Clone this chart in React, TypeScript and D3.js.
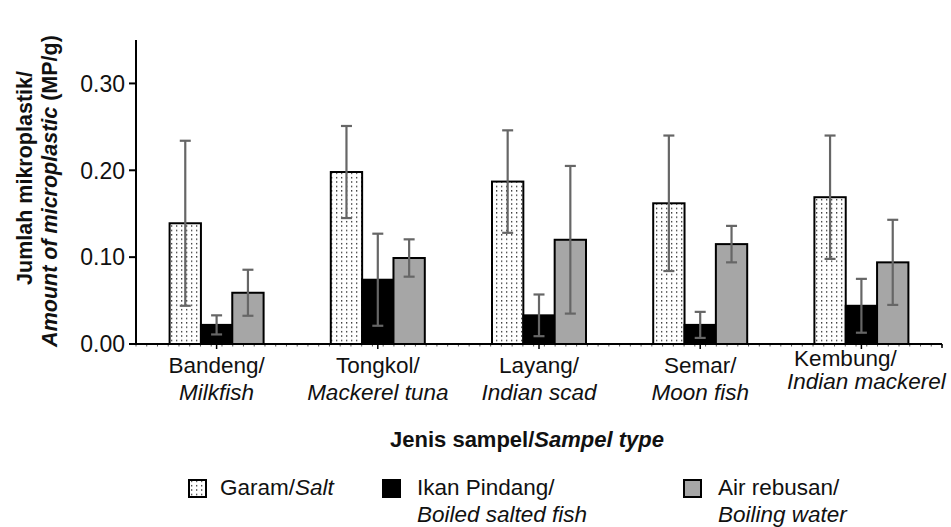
import React from "react";
import * as d3 from "d3";

const categoriesId = ["Bandeng/", "Tongkol/", "Layang/", "Semar/", "Kembung/"];
const categoriesEn = ["Milkfish", "Mackerel tuna", "Indian scad", "Moon fish", "Indian mackerel"];
const seriesKeys = ["salt", "fish", "water"];
const saltValues = [0.139, 0.198, 0.187, 0.162, 0.169];
const saltSd = [0.095, 0.053, 0.059, 0.078, 0.071];
const fishValues = [0.022, 0.074, 0.033, 0.022, 0.044];
const fishSd = [0.011, 0.053, 0.024, 0.015, 0.031];
const waterValues = [0.059, 0.099, 0.12, 0.115, 0.094];
const waterSd = [0.0265, 0.0215, 0.085, 0.021, 0.049];
const yTicks = [0, 0.1, 0.2, 0.3];

const W = 951, H = 527;
const FONT = "'Liberation Sans', Arial, Helvetica, sans-serif";

export default function App() {
  const left = 136, right = 942, top = 40, bottom = 344;
  const x = d3.scaleBand<number>().domain(d3.range(5)).range([left, right]).padding(0);
  const inner = d3.scaleBand<string>().domain(seriesKeys).range([0, 94]);
  const y = d3.scaleLinear().domain([0, 0.35]).range([bottom, top]);
  const values = [saltValues, fishValues, waterValues];
  const sds = [saltSd, fishSd, waterSd];
  const fills = ["url(#dots)", "#000000", "#a6a6a6"];
  const bw = x.bandwidth();
  const minor = d3.range(0, 76).map((i) => left + (i * (right - left)) / 75);

  return (
    <svg width={W} height={H} style={{ position: "absolute", left: 0, top: 0, background: "#fff" }} fontFamily={FONT}>
      <defs>
        <pattern id="dots" width="5" height="4.4" patternUnits="userSpaceOnUse">
          <rect width="5" height="4.4" fill="#fff" />
          <rect x="1" y="1" width="1.3" height="1.3" fill="#222" />
        </pattern>
      </defs>

      {/* minor ticks on x axis */}
      {minor.map((m, i) => (
        <line key={"m" + i} x1={m} x2={m} y1={bottom} y2={bottom + 2.5} stroke="#555" strokeWidth={1} />
      ))}

      {/* bars */}
      {d3.range(5).map((c) => {
        const gx = (x(c) as number) + bw / 2 - 47;
        return seriesKeys.map((k, s) => {
          const v = values[s][c];
          const bx = gx + (inner(k) as number);
          return (
            <rect key={k + c} x={bx} y={y(v)} width={inner.bandwidth()} height={bottom - y(v)}
              fill={fills[s]} stroke="#000" strokeWidth={2} />
          );
        });
      })}

      {/* error bars */}
      {d3.range(5).map((c) => {
        const gx = (x(c) as number) + bw / 2 - 47;
        return seriesKeys.map((k, s) => {
          const v = values[s][c], sd = sds[s][c];
          const cx = gx + (inner(k) as number) + inner.bandwidth() / 2;
          const y1 = y(v + sd), y2 = y(Math.max(0, v - sd));
          return (
            <g key={"e" + k + c} stroke="#666" strokeWidth={2.2}>
              <line x1={cx} x2={cx} y1={y1} y2={y2} />
              <line x1={cx - 5.5} x2={cx + 5.5} y1={y1} y2={y1} />
              <line x1={cx - 5.5} x2={cx + 5.5} y1={y2} y2={y2} />
            </g>
          );
        });
      })}

      {/* axes */}
      <line x1={left} x2={left} y1={top} y2={bottom + 1} stroke="#000" strokeWidth={2} />
      <line x1={left - 1} x2={right} y1={bottom} y2={bottom} stroke="#000" strokeWidth={2} />
      <line x1={right} x2={right} y1={bottom} y2={bottom + 4} stroke="#000" strokeWidth={1.5} />
      {yTicks.map((t) => (
        <g key={"yt" + t}>
          <line x1={left - 7} x2={left} y1={y(t)} y2={y(t)} stroke="#000" strokeWidth={2} />
          <text x={left - 11} y={y(t)} dy="0.36em" textAnchor="end" fontSize={23} fill="#111">
            {d3.format(".2f")(t)}
          </text>
        </g>
      ))}
      {d3.range(5).map((c) => {
        const cx = (x(c) as number) + bw / 2;
        const last = c === 4;
        return (
          <g key={"xt" + c}>
            <line x1={cx} x2={cx} y1={bottom} y2={bottom + 5} stroke="#000" strokeWidth={1.5} />
            <text x={last ? cx - 16 : cx} y={last ? 366 : 373} textAnchor="middle" fontSize={22.5} fill="#111">
              {categoriesId[c]}
            </text>
            <text x={last ? cx + 5 : cx} y={last ? 389 : 400} textAnchor="middle" fontSize={22.5} fontStyle="italic" fill="#111">
              {categoriesEn[c]}
            </text>
          </g>
        );
      })}

      {/* y axis title */}
      <text transform="translate(32,178) rotate(-90)" textAnchor="middle" fontSize={21.5} fontWeight="bold" fill="#111">
        Jumlah mikroplastik/
      </text>
      <text transform="translate(57,191) rotate(-90)" textAnchor="middle" fontSize={21.5} fontWeight="bold" fill="#111">
        <tspan fontStyle="italic">Amount of microplastic</tspan>
        <tspan> (MP/g)</tspan>
      </text>

      {/* x axis title */}
      <text x={527} y={447} textAnchor="middle" fontSize={22} fontWeight="bold" fill="#111">
        Jenis sampel/<tspan fontStyle="italic">Sampel type</tspan>
      </text>

      {/* legend */}
      <g fontSize={22.5} fill="#111">
        <rect x={189} y={480} width={17} height={17} fill="url(#dots)" stroke="#000" strokeWidth={2} />
        <text x={220} y={495}>Garam/<tspan fontStyle="italic">Salt</tspan></text>
        <rect x={383} y={480} width={17} height={17} fill="#000" stroke="#000" strokeWidth={2} />
        <text x={417} y={495}>Ikan Pindang/</text>
        <text x={417} y={522} fontStyle="italic">Boiled salted fish</text>
        <rect x={684} y={480} width={17} height={17} fill="#a6a6a6" stroke="#000" strokeWidth={2} />
        <text x={718} y={495}>Air rebusan/</text>
        <text x={718} y={522} fontStyle="italic">Boiling water</text>
      </g>
    </svg>
  );
}
